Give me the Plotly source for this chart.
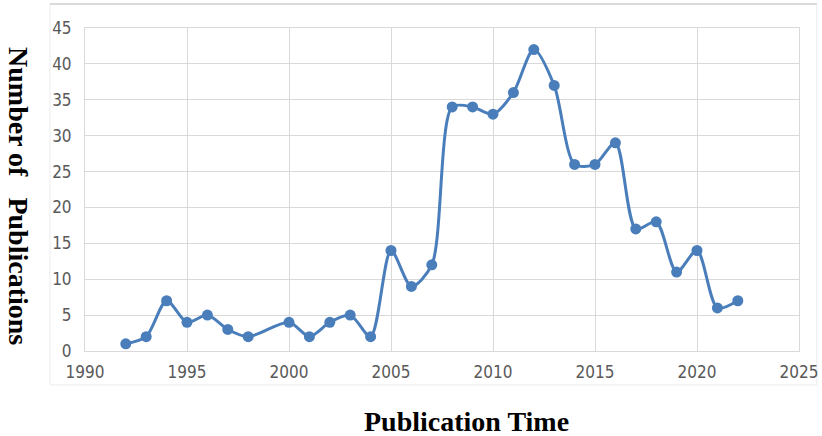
import plotly.graph_objects as go

years = [1992, 1993, 1994, 1995, 1996, 1997, 1998, 2000, 2001, 2002, 2003, 2004,
         2005, 2006, 2007, 2008, 2009, 2010, 2011, 2012, 2013, 2014, 2015, 2016,
         2017, 2018, 2019, 2020, 2021, 2022]
publications = [1, 2, 7, 4, 5, 3, 2, 4, 2, 4, 5, 2,
                14, 9, 12, 34, 34, 33, 36, 42, 37, 26, 26, 29,
                17, 18, 11, 14, 6, 7]
x_ticks = [1990, 1995, 2000, 2005, 2010, 2015, 2020, 2025]
y_ticks = [0, 5, 10, 15, 20, 25, 30, 35, 40, 45]

line_color = "#4a7ebb"
grid_color = "#d9d9d9"
tick_font = dict(family="DejaVu Sans Condensed, Liberation Sans Narrow, sans-serif",
                 size=17, color="#595959")
title_font = dict(family="Liberation Serif, Times New Roman, serif", size=28, color="black")

fig = go.Figure()
fig.add_trace(go.Scatter(
    x=years, y=publications, mode="lines+markers",
    line=dict(color=line_color, width=3, shape="spline", smoothing=0.8),
    marker=dict(color=line_color, size=11),
    showlegend=False,
))

fig.update_layout(
    width=822, height=436,
    margin=dict(l=85, r=23, t=28, b=85, autoexpand=False),
    paper_bgcolor="white", plot_bgcolor="white",
    xaxis=dict(range=[1990, 2025], tickvals=x_ticks, showgrid=True, gridcolor=grid_color,
               gridwidth=1, zeroline=False, showline=True, linecolor=grid_color, mirror=True,
               ticks="", tickfont=tick_font, ticklabelstandoff=6, automargin=False),
    yaxis=dict(range=[0, 45], tickvals=y_ticks, showgrid=True, gridcolor=grid_color,
               gridwidth=1, zeroline=False, showline=True, linecolor=grid_color, mirror=True,
               ticks="", tickfont=tick_font, ticklabelstandoff=9, automargin=False),
    shapes=[
        dict(type="rect", xref="paper", yref="paper", x0=-0.049, x1=1.025, y0=-0.105, y1=1.074,
             line=dict(color="#ececec", width=1), layer="below"),
        dict(type="line", xref="paper", yref="paper", x0=-0.049, x1=1.025, y0=1.074, y1=1.074,
             line=dict(color="#d0d0d0", width=1.5)),
    ],
    annotations=[
        dict(text="<b>Publication Time</b>", xref="paper", yref="paper", x=0.535, y=-0.217,
             xanchor="center", yanchor="middle", showarrow=False, font=title_font),
        dict(text="<b>Number of   Publications</b>", xref="paper", yref="paper", x=-0.094, y=0.48,
             xanchor="center", yanchor="middle", showarrow=False, textangle=90, font=title_font),
    ],
)

fig.write_html("out.html", config={"displayModeBar": False},
               post_script="document.body.style.margin='0';")
